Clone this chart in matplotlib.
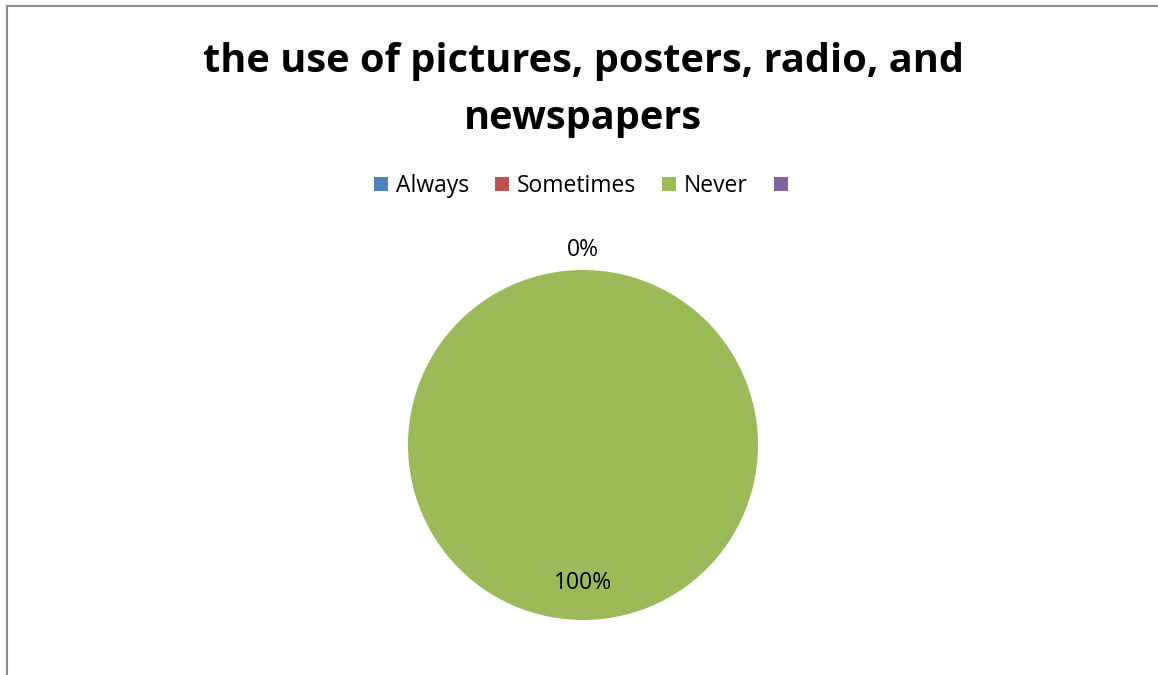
import matplotlib
matplotlib.use("Agg")
import matplotlib.pyplot as plt
from matplotlib.patches import Patch
from matplotlib.lines import Line2D
import numpy as np

categories = ["Always", "Sometimes", "Never", ""]
values = [0, 0, 100, 0]
colors = ["#4F81BD", "#C0504D", "#9BBB59", "#8064A2"]
title = "the use of pictures, posters, radio, and\nnewspapers"

W, H = 1158, 675
fig = plt.figure(figsize=(W / 100, H / 100), dpi=100)
fig.patch.set_facecolor("white")
font = "Open Sans"

# border (left and top)
fig.add_artist(Line2D([7 / W, 7 / W], [0, 1 - 6 / H], transform=fig.transFigure,
                      color="#8c8c8c", lw=1.5))
fig.add_artist(Line2D([7 / W, 1], [1 - 6 / H, 1 - 6 / H], transform=fig.transFigure,
                      color="#8c8c8c", lw=1.5))

fig.text(583 / W, 1 - 90 / H, title, ha="center", va="center", fontsize=28.6,
         fontweight="bold", family=font, linespacing=1.62)

handles = [Patch(facecolor=c, edgecolor="none") for c in colors]
fig.legend(handles, categories, loc="center", bbox_to_anchor=(585 / W, 1 - 186 / H),
           ncol=4, frameon=False, prop={"family": font, "size": 16.5},
           handlelength=0.6, handleheight=0.6, handletextpad=0.35, columnspacing=1.15)

cx, cy, r = 583, 445, 175
half = 220
ax = fig.add_axes([(cx - half) / W, (H - cy - half) / H, 2 * half / W, 2 * half / H])
wedges, _ = ax.pie(values, colors=colors, startangle=90, counterclock=False, radius=1)
ax.set_xlim(-half / r, half / r)
ax.set_ylim(-half / r, half / r)
ax.set_aspect("equal")
ax.axis("off")

total = sum(values)
shown_zero = False
for w, v in zip(wedges, values):
    ang = np.deg2rad((w.theta1 + w.theta2) / 2)
    pct = f"{v / total * 100:.0f}%"
    if v == 0:
        if shown_zero:
            continue
        shown_zero = True
        d = 1.115
    else:
        d = 0.79
    ax.text(d * np.cos(ang), d * np.sin(ang), pct, ha="center", va="center",
            fontsize=16.5, family=font)

fig.savefig("out.png", dpi=100)
